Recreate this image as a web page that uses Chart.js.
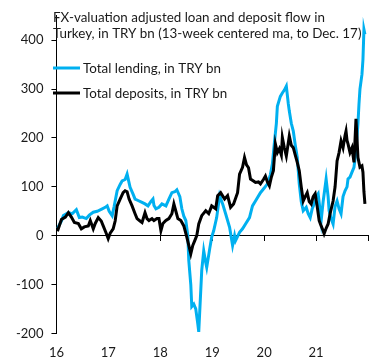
<!DOCTYPE html>
<html>
<head>
<meta charset="utf-8">
<script src="https://cdn.jsdelivr.net/npm/chart.js@4/dist/chart.umd.min.js"></script>
<style>
  html, body { margin: 0; padding: 0; background: #ffffff; }
  #wrap { width: 383px; height: 362px; position: relative; }
</style>
</head>
<body>
<div id="wrap"><canvas id="c" width="383" height="362"></canvas></div>
<script>
// Week index counted from the start of 2016
const titleLines = [
  "FX-valuation adjusted loan and deposit flow in",
  "Turkey, in TRY bn (13-week centered ma, to Dec. 17)"
];
const yearLabels = ["16", "17", "18", "19", "20", "21", ""];
const yearStartWeeks = [0, 52.18, 104.36, 156.54, 208.72, 260.9, 313.08];

const lendingLabel = "Total lending, in TRY bn";
const lendingWeeks = [1,5,7,12,16,20,23,26,30,33,37,41,46,49,51,53,56,58,61,64,66,69,71,74,77,79,82,86,89,92,95,97,98,100,103,106,110,113,116,119,121,124,126,128,130,132,133,135,136,138,140,142,143,146,148,150,151,154,156,158,161,164,167,170,174,177,179,180,184,187,190,194,197,200,205,209,212,215,217,219,221,222,225,227,229,231,233,234,236,238,240,242,244,246,248,251,253,255,257,259,261,263,265,266,268,271,273,274,276,278,280,282,284,286,288,290,292,293,295,297,299,301,303,304,305,307,308,309,310];
const lendingValues = [15,30,41,47,45,53,37,38,35,42,48,50,55,58,61,50,41,60,92,105,112,115,126,99,85,75,72,68,65,61,70,75,62,55,58,65,61,75,88,90,94,80,55,40,31,0,-51,-100,-145,-140,-150,-180,-197,-71,-31,-55,-65,-27,-3,10,37,82,65,45,17,-20,0,-10,7,14,24,37,61,71,88,98,106,125,147,190,230,265,285,292,298,306,270,255,230,214,185,160,106,70,51,58,45,37,55,65,80,86,50,31,70,116,80,51,35,24,60,71,55,45,80,92,100,116,120,130,140,173,230,269,300,330,360,422,412];

const depositLabel = "Total deposits, in TRY bn";
const depositWeeks = [1,5,9,12,15,18,22,25,28,32,34,37,39,42,45,47,50,52,54,57,59,61,64,67,69,71,73,76,79,81,84,86,89,91,93,96,98,101,103,105,107,110,113,116,118,120,122,125,128,131,133,135,137,139,141,143,146,150,153,156,160,162,165,169,172,175,178,182,184,187,189,191,193,195,198,200,203,205,208,210,212,214,216,218,220,222,224,226,227,229,231,233,234,236,238,240,242,244,246,248,250,252,254,256,258,260,262,264,266,268,269,271,273,275,278,280,282,284,286,288,290,291,292,293,295,297,299,301,303,305,307,308,309,310];
const depositValues = [9,33,38,47,38,27,25,14,18,20,31,14,25,37,30,20,5,-6,5,14,30,61,75,88,92,90,75,61,45,35,30,27,47,35,31,35,31,35,35,10,25,31,35,45,65,50,35,31,20,-3,-20,-37,-20,-10,0,24,41,51,45,61,55,82,88,75,82,58,65,88,126,140,160,145,139,116,112,109,110,106,115,122,110,102,120,133,188,170,178,165,201,180,163,190,204,185,180,165,150,133,100,71,80,88,70,65,80,86,60,31,20,10,4,15,24,45,71,100,153,170,194,180,205,214,195,188,170,180,150,239,160,140,143,130,90,65];

const yTickValues = [-200, -100, 0, 100, 200, 300, 400];

function toPoints(xs, ys) { return xs.map((x, i) => ({ x: x, y: ys[i] })); }

const FONT = "Lato, 'Open Sans', sans-serif";
const BLUE = "#00B0F0";
const TEXT = "#1a1a1a";

const overlayPlugin = {
  id: "overlay",
  afterDraw(chart) {
    const ctx = chart.ctx;
    ctx.save();
    ctx.fillStyle = TEXT;
    ctx.font = "13.4px " + FONT;
    ctx.textBaseline = "alphabetic";
    ctx.textAlign = "left";
    ctx.fillText(titleLines[0], 53, 22);
    ctx.fillText(titleLines[1], 53, 38);
    // legend
    const items = [
      { label: chart.data.datasets[1].label, color: chart.data.datasets[1].borderColor, y: 68 },
      { label: chart.data.datasets[0].label, color: chart.data.datasets[0].borderColor, y: 93 }
    ];
    items.forEach(it => {
      ctx.strokeStyle = it.color;
      ctx.lineWidth = 3;
      ctx.beginPath();
      ctx.moveTo(53, it.y);
      ctx.lineTo(80, it.y);
      ctx.stroke();
      ctx.fillText(it.label, 83, it.y + 4.5);
    });
    ctx.restore();
  }
};

new Chart(document.getElementById("c"), {
  type: "line",
  data: {
    datasets: [
      { label: depositLabel, data: toPoints(depositWeeks, depositValues), borderColor: "#000000", borderWidth: 3, pointRadius: 0, tension: 0, order: 0 },
      { label: lendingLabel, data: toPoints(lendingWeeks, lendingValues), borderColor: BLUE, borderWidth: 3, pointRadius: 0, tension: 0, order: 1 }
    ]
  },
  options: {
    responsive: false,
    animation: false,
    layout: { padding: { left: 8, right: 15, top: 13, bottom: -11 } },
    plugins: { legend: { display: false }, title: { display: false }, tooltip: { enabled: false } },
    scales: {
      x: {
        type: "linear", min: 0, max: 313.08,
        position: { y: 0 },
        grid: { display: true, drawOnChartArea: false, drawTicks: true, tickLength: 5, color: "#000" },
        border: { display: true, color: "#000", width: 1 },
        ticks: { display: false },
        afterBuildTicks(scale) { scale.ticks = yearStartWeeks.map(v => ({ value: v })); },
        afterFit(scale) { scale.height = 0; }
      },
      x2: {
        type: "linear", axis: "x", min: 0, max: 313.08,
        position: "bottom",
        grid: { display: false, drawTicks: false },
        border: { display: false },
        ticks: {
          padding: 12, color: TEXT, font: { family: FONT, size: 13 }, maxRotation: 0, autoSkip: false,
          callback: (v, i) => yearLabels[i]
        },
        afterBuildTicks(scale) { scale.ticks = yearStartWeeks.map(v => ({ value: v })); }
      },
      y: {
        type: "linear", min: -200, max: 450,
        grid: { display: true, drawOnChartArea: false, drawTicks: true, tickLength: 5, color: "#000" },
        border: { display: true, color: "#000", width: 1 },
        ticks: {
          padding: 8, color: TEXT, font: { family: FONT, size: 13 },
          includeBounds: false
        },
        afterBuildTicks(scale) { scale.ticks = yTickValues.map(v => ({ value: v })); }
      }
    }
  },
  plugins: [overlayPlugin]
});
</script>
</body>
</html>
